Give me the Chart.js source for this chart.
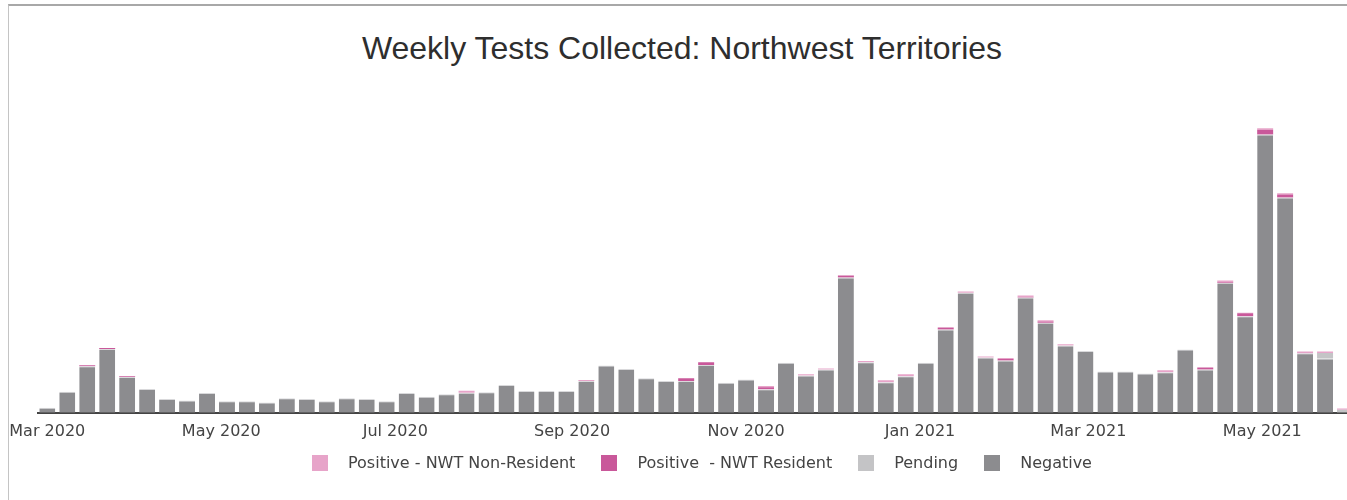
<!DOCTYPE html>
<html>
<head>
<meta charset="utf-8">
<script src="https://cdn.jsdelivr.net/npm/chart.js@4.4.0/dist/chart.umd.min.js"></script>
<style>
  body { margin: 0; background: #fff; overflow: hidden; width: 1347px; height: 500px; position: relative; }
  .frame { position: absolute; left: 8px; top: 4px; width: 1400px; height: 520px; border-top: 2px solid #a8a8a8; border-left: 1px solid #c4c4c4; }
  .title { position: absolute; left: 0; width: 1364px; top: 29px; text-align: center; font: 32px "Liberation Sans", Arial, sans-serif; color: #2e2e2e; line-height: 38px; }
  .chart-box { position: absolute; left: 0; top: 0; width: 1364px; height: 455px; }
  .legend { position: absolute; left: 312px; top: 453px; display: flex; font: 16px "DejaVu Sans", Verdana, sans-serif; color: #444; white-space: pre; }
  .legend .item { display: flex; align-items: center; margin-right: 26px; }
  .legend .swatch { width: 16px; height: 16px; margin-right: 20px; }
</style>
</head>
<body>
<div class="frame"></div>
<div class="title">Weekly Tests Collected: Northwest Territories</div>
<div class="chart-box"><canvas id="testsChart"></canvas></div>
<div class="legend" id="legend"></div>

<script>
// weeks start on Sundays, first one is 2020-03-01
const firstWeek = "2020-03-01";

const negative = [18, 74, 163, 223, 125, 83, 48, 43, 69, 40,
  40, 36, 51, 48, 40, 51, 48, 40, 69, 56,
  65, 70, 72, 97, 76, 76, 76, 111, 165, 153,
  121, 111, 111, 167, 105, 116, 82, 175, 130, 151,
  473, 177, 107, 128, 175, 291, 420, 193, 183, 403,
  315, 235, 216, 144, 144, 137, 142, 221, 151, 455,
  338, 973, 753, 208, 190, 1];

const pending = [0, 0, 0, 0, 0, 0, 0, 0, 0, 0,
  0, 0, 0, 0, 0, 0, 0, 0, 0, 0,
  0, 0, 0, 0, 0, 0, 0, 0, 0, 0,
  0, 0, 0, 0, 0, 0, 0, 0, 0, 0,
  0, 0, 0, 0, 0, 0, 0, 0, 0, 0,
  0, 0, 0, 0, 0, 0, 0, 0, 0, 0,
  0, 0, 0, 0, 19, 10];

const positiveResident = [0, 0, 3, 4, 3, 0, 0, 0, 0, 0,
  0, 0, 0, 0, 0, 0, 0, 0, 0, 0,
  0, 0, 0, 0, 0, 0, 0, 0, 0, 0,
  0, 0, 10, 10, 0, 0, 7, 0, 0, 0,
  7, 0, 0, 0, 0, 7, 0, 0, 5, 2,
  4, 0, 0, 0, 0, 0, 0, 0, 7, 2,
  10, 17, 10, 2, 0, 0];

const positiveNonResident = [0, 0, 0, 0, 0, 0, 0, 0, 0, 0,
  0, 0, 0, 0, 0, 0, 0, 0, 0, 0,
  0, 7, 0, 0, 0, 0, 0, 4, 0, 0,
  0, 0, 0, 0, 0, 0, 5, 0, 5, 4,
  0, 4, 7, 7, 0, 0, 4, 4, 4, 5,
  5, 5, 0, 0, 0, 0, 7, 0, 0, 6,
  2, 5, 5, 4, 5, 4];

const monthStarts = ["2020-03-01", "2020-05-01", "2020-07-01", "2020-09-01",
  "2020-11-01", "2021-01-01", "2021-03-01", "2021-05-01"];
const monthLabels = ["Mar 2020", "May 2020", "Jul 2020", "Sep 2020",
  "Nov 2020", "Jan 2021", "Mar 2021", "May 2021"];

const seriesNames = ["Positive - NWT Non-Resident", "Positive  - NWT Resident", "Pending", "Negative"];
const seriesColors = ["#e7a4c9", "#c9589a", "#c4c4c6", "#8c8c8f"];

const DAY = 86400000;
const daysFrom = (d) => (Date.parse(d) - Date.parse(firstWeek)) / DAY;
const weekDays = negative.map((_, i) => i * 7);
const monthDays = monthStarts.map(daysFrom);

const toPoints = (arr) => arr.map((v, i) => ({ x: weekDays[i], y: v }));
const totals = negative.map((v, i) => v + pending[i] + positiveResident[i] + positiveNonResident[i]);
const yMax = Math.max(...totals) * 1.05;

const ctx = document.getElementById("testsChart").getContext("2d");
new Chart(ctx, {
  type: "bar",
  data: {
    datasets: [
      { label: seriesNames[3], data: toPoints(negative), backgroundColor: seriesColors[3],
        borderColor: "#d9d9db", borderWidth: { top: 1, left: 0, right: 0, bottom: 0 }, borderSkipped: false },
      { label: seriesNames[2], data: toPoints(pending), backgroundColor: seriesColors[2] },
      { label: seriesNames[1], data: toPoints(positiveResident), backgroundColor: seriesColors[1] },
      { label: seriesNames[0], data: toPoints(positiveNonResident), backgroundColor: seriesColors[0] },
    ],
  },
  options: {
    responsive: true,
    maintainAspectRatio: false,
    animation: false,
    barPercentage: 0.8,
    categoryPercentage: 1.0,
    layout: { padding: { left: 38, right: 9, top: 114, bottom: 5 } },
    plugins: { legend: { display: false }, title: { display: false }, tooltip: { enabled: false } },
    scales: {
      x: {
        type: "linear",
        stacked: true,
        offset: false,
        min: -3.26,
        max: 458.5,
        grid: { display: false, drawTicks: false },
        border: { display: true, color: "#444", width: 2 },
        afterBuildTicks: (scale) => { scale.ticks = monthDays.map((v) => ({ value: v })); },
        ticks: {
          autoSkip: false,
          maxRotation: 0,
          padding: 9,
          color: "#444",
          font: { family: "DejaVu Sans", size: 16 },
          callback: (value, index) => monthLabels[index],
        },
      },
      y: {
        stacked: true,
        display: false,
        min: 0,
        max: yMax,
      },
    },
  },
});

// legend, same order as the reference
const legend = document.getElementById("legend");
seriesNames.forEach((name, i) => {
  const item = document.createElement("div");
  item.className = "item";
  item.innerHTML = '<span class="swatch" style="background:' + seriesColors[i] + '"></span><span>' + name + "</span>";
  legend.appendChild(item);
});
</script>
</body>
</html>
